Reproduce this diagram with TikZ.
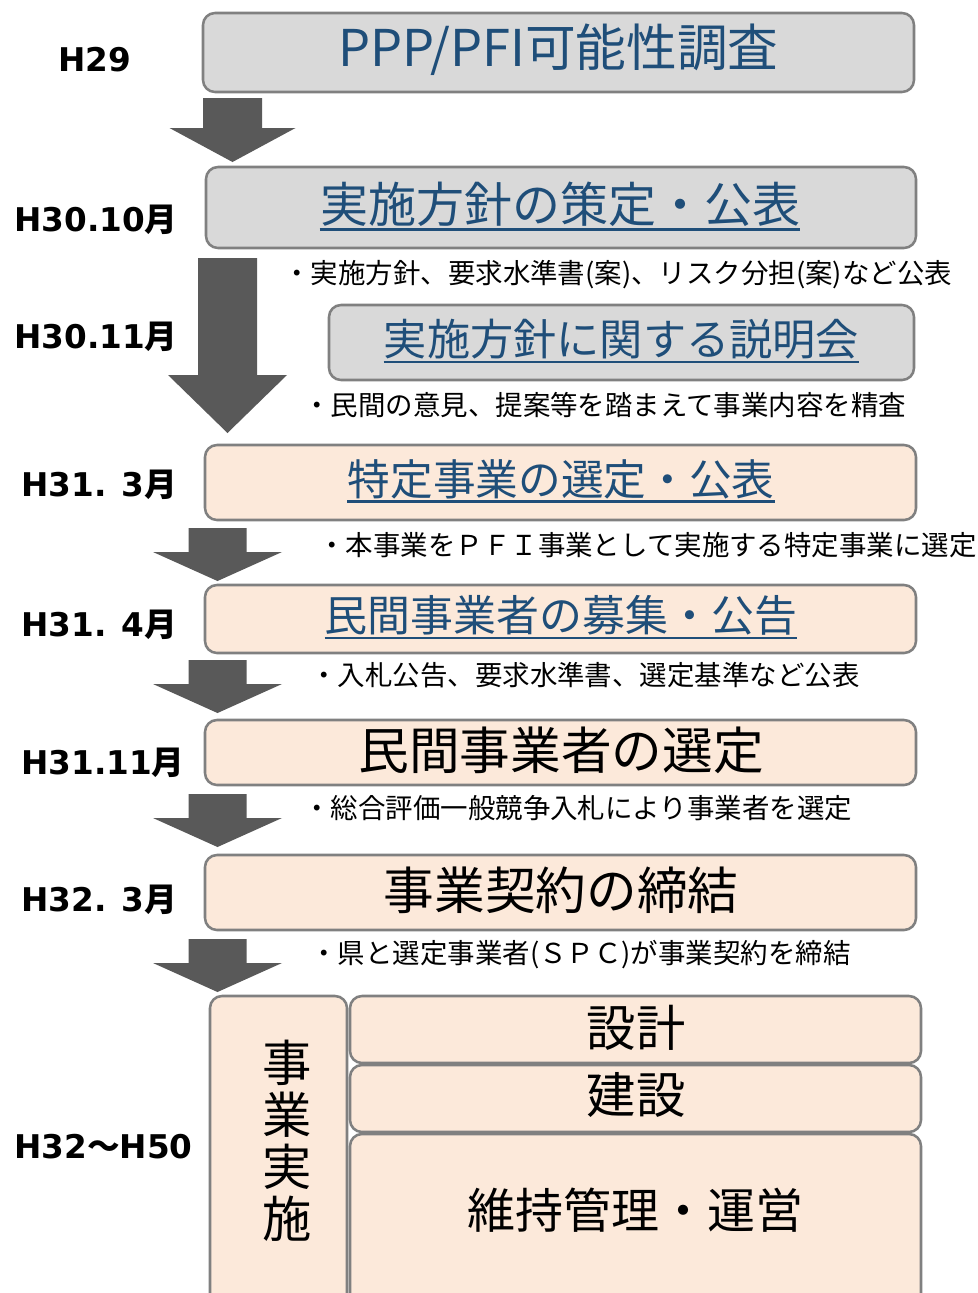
\documentclass[tikz,border=0pt]{standalone}
\usepackage{fontspec}
\setmainfont{Noto Sans CJK JP}
\newfontfamily\labfont{DejaVu Sans}
\definecolor{titleblue}{RGB}{31,78,121}
\definecolor{boxgray}{RGB}{217,217,217}
\definecolor{boxpeach}{RGB}{252,233,218}
\definecolor{edgegray}{RGB}{128,128,128}
\definecolor{arrowgray}{RGB}{89,89,89}
\newcommand\MonthLbl[2]{{\labfont\bfseries #1}{\bfseries #2}}
\newcommand\BlkArrow[6]{% cx, top, base, tip, shaft half, head half
  \fill[arrowgray] (#1-#5,#2) -- (#1+#5,#2) -- (#1+#5,#3) -- (#1+#6,#3) -- (#1,#4) -- (#1-#6,#3) -- (#1-#5,#3) -- cycle;}
\begin{document}
\begin{tikzpicture}[x=0.75pt,y=-0.75pt,
  boxbase/.style={draw=edgegray,line width=1.9pt,rounded corners=9pt,inner sep=0pt,outer sep=0pt},
  gbox/.style={boxbase,fill=boxgray},
  pbox/.style={boxbase,fill=boxpeach},
  lbl/.style={anchor=west,inner sep=0pt,font=\fontsize{24.5}{28}\selectfont},
  note/.style={anchor=west,inner sep=0pt,font=\fontsize{20.6}{24}\selectfont},
  bluett/.style={inner sep=0pt,text=titleblue},
  blackt/.style={inner sep=0pt,text=black},
  ul/.style={titleblue,line width=2pt}]
\clip (0,0) rectangle (978,1293);
\fill[white] (0,0) rectangle (978,1293);
% boxes
\node[gbox,minimum width=533.25pt,minimum height=59.25pt] (b1) at (558.5,52.5) {};
\node[gbox,minimum width=532.5pt,minimum height=60.75pt] (b2) at (561,207.5) {};
\node[gbox,minimum width=438.75pt,minimum height=56.25pt] (b3) at (621.5,342.5) {};
\node[pbox,minimum width=533.25pt,minimum height=56.25pt] (b4) at (560.5,482.5) {};
\node[pbox,minimum width=533.25pt,minimum height=51pt] (b5) at (560.5,619) {};
\node[pbox,minimum width=533.25pt,minimum height=48.75pt] (b6) at (560.5,752.5) {};
\node[pbox,minimum width=533.25pt,minimum height=56.25pt] (b7) at (560.5,892.5) {};
\node[pbox,minimum width=102.75pt,minimum height=235.5pt] (b8) at (278.5,1153) {};
\node[pbox,minimum width=428.25pt,minimum height=50.25pt] (b9) at (635.5,1029.5) {};
\node[pbox,minimum width=428.25pt,minimum height=50.25pt] (b10) at (635.5,1098.5) {};
\node[pbox,minimum width=428.25pt,minimum height=132pt] (b11) at (635.5,1222) {};
% arrows
\BlkArrow{232.5}{98}{128}{162}{29.5}{63}
\BlkArrow{227.5}{258}{375}{433}{29.5}{59.5}
\BlkArrow{217.5}{528}{552}{581}{29}{64.5}
\BlkArrow{217.5}{660}{684}{713}{29}{64.5}
\BlkArrow{217.5}{794}{818}{847}{29}{64.5}
\BlkArrow{217.5}{939}{963}{992}{29}{64.5}
% titles
\node[bluett,font=\fontsize{38}{42}\selectfont] (t1) at (558.5,50) {PPP/PFI可能性調査};
\node[bluett,font=\fontsize{36}{40}\selectfont] (t2) at (560,204) {実施方針の策定・公表};
\draw[ul] ([yshift=-5.5pt]t2.base west) -- ([yshift=-5.5pt]t2.base east);
\node[bluett,font=\fontsize{32.4}{36}\selectfont] (t3) at (621.5,339) {実施方針に関する説明会};
\draw[ul] ([yshift=-5pt]t3.base west) -- ([yshift=-5pt]t3.base east);
\node[bluett,font=\fontsize{32}{36}\selectfont] (t4) at (561,479) {特定事業の選定・公表};
\draw[ul] ([yshift=-5pt]t4.base west) -- ([yshift=-5pt]t4.base east);
\node[bluett,font=\fontsize{32.2}{36}\selectfont] (t5) at (561,615) {民間事業者の募集・公告};
\draw[ul] ([yshift=-5pt]t5.base west) -- ([yshift=-5pt]t5.base east);
\node[blackt,font=\fontsize{38}{42}\selectfont] (t6) at (561,750) {民間事業者の選定};
\node[blackt,font=\fontsize{38}{42}\selectfont] (t7) at (561,890) {事業契約の締結};
\node[blackt,font=\fontsize{37}{39}\selectfont,align=center] (t8) at (287,1141) {事\\業\\実\\施};
\node[blackt,font=\fontsize{37}{40}\selectfont] (t9) at (636,1028) {設計};
\node[blackt,font=\fontsize{37}{40}\selectfont] (t10) at (636,1095) {建設};
\node[blackt,font=\fontsize{36}{40}\selectfont] (t11) at (635,1210) {維持管理・運営};
% notes
\node[note] (n1) at (283,275) {・実施方針、要求水準書(案)、リスク分担(案)など公表};
\node[note] (n2) at (303,405) {・民間の意見、提案等を踏まえて事業内容を精査};
\node[note] (n3) at (318,545) {・本事業をＰＦＩ事業として実施する特定事業に選定};
\node[note] (n4) at (310,675) {・入札公告、要求水準書、選定基準など公表};
\node[note] (n5) at (303,808) {・総合評価一般競争入札により事業者を選定};
\node[note] (n6) at (310,955) {・県と選定事業者(ＳＰＣ)が事業契約を締結};
% time labels
\node[lbl] (l1) at (58,60) {\MonthLbl{H29}{}};
\node[lbl] (l2) at (14,220) {\MonthLbl{H30.10}{月}};
\node[lbl] (l3) at (14,337) {\MonthLbl{H30.11}{月}};
\node[lbl] (l4) at (21,485) {\MonthLbl{H31. 3}{月}};
\node[lbl] (l5) at (21,625) {\MonthLbl{H31. 4}{月}};
\node[lbl] (l6) at (21,763) {\MonthLbl{H31.11}{月}};
\node[lbl] (l7) at (21,900) {\MonthLbl{H32. 3}{月}};
\node[lbl] (l8) at (14,1147) {\MonthLbl{H32}{～}\MonthLbl{H50}{}};
\end{tikzpicture}
\end{document}
